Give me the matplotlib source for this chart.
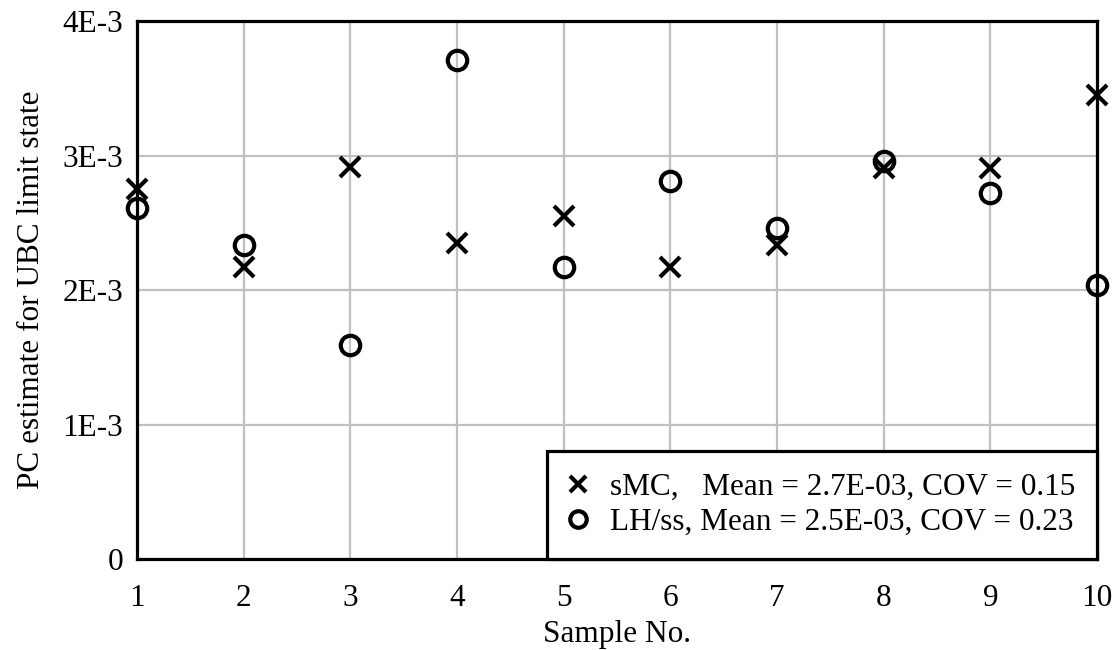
import numpy as np
import matplotlib
matplotlib.use("Agg")
import matplotlib.pyplot as plt
from matplotlib.ticker import FixedLocator, FixedFormatter

samples = [1, 2, 3, 4, 5, 6, 7, 8, 9, 10]
smc = [2.75e-3, 2.17e-3, 2.92e-3, 2.35e-3, 2.55e-3, 2.17e-3, 2.34e-3, 2.91e-3, 2.91e-3, 3.45e-3]
lhss = [2.61e-3, 2.34e-3, 1.59e-3, 3.71e-3, 2.17e-3, 2.81e-3, 2.46e-3, 2.96e-3, 2.72e-3, 2.04e-3]

yticks = [0, 1e-3, 2e-3, 3e-3, 4e-3]
ytick_labels = ["0", "1E-3", "2E-3", "3E-3", "4E-3"]

smc_label = "sMC,   Mean = 2.7E-03, COV = 0.15"
lhss_label = "LH/ss, Mean = 2.5E-03, COV = 0.23"

FS = 22.5
plt.rcParams['font.family'] = ['Liberation Serif', 'DejaVu Serif']
plt.rcParams['font.size'] = FS

fig = plt.figure(figsize=(11.18, 6.5), dpi=100)
ax = fig.add_axes([0.1225, 0.14, 0.8587, 0.827])

ax.plot(samples, smc, linestyle='none', marker='x', markersize=14,
        markeredgewidth=3, color='black', label=smc_label, clip_on=False, zorder=5)
ax.plot(samples, lhss, linestyle='none', marker='o', markersize=14,
        markeredgewidth=3, markerfacecolor='none', markeredgecolor='black',
        label=lhss_label, clip_on=False, zorder=5)

ax.set_xlim(1, 10)
ax.set_ylim(0, 4e-3)
ax.xaxis.set_major_locator(FixedLocator(samples))
ax.yaxis.set_major_locator(FixedLocator(yticks))
ax.yaxis.set_major_formatter(FixedFormatter(ytick_labels))
ax.tick_params(length=0, labelsize=FS)
ax.tick_params(axis='y', pad=10)
ax.tick_params(axis='x', pad=18)

ax.grid(True, color='#c0c0c0', linewidth=1.6)
ax.set_axisbelow(True)
for s in ax.spines.values():
    s.set_linewidth(2.3)
    s.set_color('black')

ax.set_xlabel("Sample No.", fontsize=FS, labelpad=5)
ax.set_ylabel("PC estimate for UBC limit state", fontsize=FS, labelpad=12)

leg = ax.legend(loc='lower right', bbox_to_anchor=(1, 0), borderaxespad=0,
                fancybox=False, frameon=True, edgecolor='black', framealpha=1,
                fontsize=FS, markerscale=0.85, handlelength=0.6, handletextpad=0.7,
                borderpad=0.7, labelspacing=0.2)
leg.get_frame().set_linewidth(2.3)
leg.set_zorder(10)

fig.savefig("out.png", dpi=100)
